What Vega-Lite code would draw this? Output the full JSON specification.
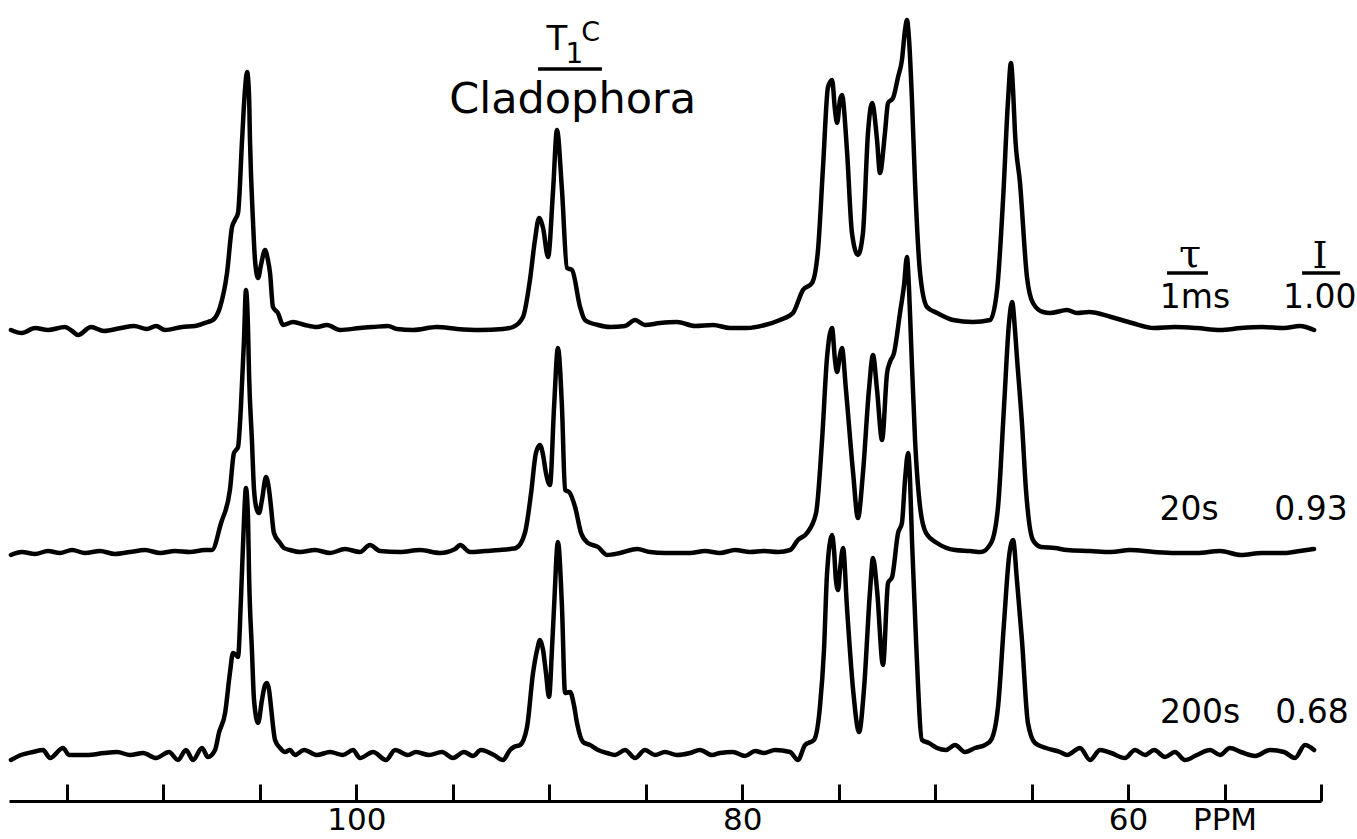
{
"$schema": "https://vega.github.io/schema/vega-lite/v6.json",
"width": 1312, "height": 801,
"autosize": "none",
"padding": {"left": 9, "right": 36, "top": 0, "bottom": 38},
"background": "white",
"config": {"view": {"stroke": null}},
"datasets": {
"spectra": [
{"trace":"1ms","ppm":117.90,"signal":471},{"trace":"1ms","ppm":117.33,"signal":468},{"trace":"1ms","ppm":116.65,"signal":473},{"trace":"1ms","ppm":115.98,"signal":471},{"trace":"1ms","ppm":115.10,"signal":474},{"trace":"1ms","ppm":114.73,"signal":470},{"trace":"1ms","ppm":114.42,"signal":466},{"trace":"1ms","ppm":113.75,"signal":474},{"trace":"1ms","ppm":113.08,"signal":470},{"trace":"1ms","ppm":112.20,"signal":473},{"trace":"1ms","ppm":111.52,"signal":475},{"trace":"1ms","ppm":110.85,"signal":472},{"trace":"1ms","ppm":110.38,"signal":475},{"trace":"1ms","ppm":109.91,"signal":471},{"trace":"1ms","ppm":109.03,"signal":474},{"trace":"1ms","ppm":108.36,"signal":475},{"trace":"1ms","ppm":107.69,"signal":479},{"trace":"1ms","ppm":107.43,"signal":481},{"trace":"1ms","ppm":107.06,"signal":494},{"trace":"1ms","ppm":106.70,"signal":528},{"trace":"1ms","ppm":106.44,"signal":574},{"trace":"1ms","ppm":106.29,"signal":581},{"trace":"1ms","ppm":106.13,"signal":588},{"trace":"1ms","ppm":105.92,"signal":661},{"trace":"1ms","ppm":105.77,"signal":711},{"trace":"1ms","ppm":105.66,"signal":729},{"trace":"1ms","ppm":105.56,"signal":706},{"trace":"1ms","ppm":105.51,"signal":661},{"trace":"1ms","ppm":105.35,"signal":578},{"trace":"1ms","ppm":105.25,"signal":541},{"trace":"1ms","ppm":105.09,"signal":523},{"trace":"1ms","ppm":104.94,"signal":536},{"trace":"1ms","ppm":104.73,"signal":551},{"trace":"1ms","ppm":104.58,"signal":541},{"trace":"1ms","ppm":104.47,"signal":528},{"trace":"1ms","ppm":104.32,"signal":494},{"trace":"1ms","ppm":104.06,"signal":488},{"trace":"1ms","ppm":103.80,"signal":476},{"trace":"1ms","ppm":103.28,"signal":479},{"trace":"1ms","ppm":102.66,"signal":476},{"trace":"1ms","ppm":102.04,"signal":474},{"trace":"1ms","ppm":101.52,"signal":476},{"trace":"1ms","ppm":100.84,"signal":471},{"trace":"1ms","ppm":99.81,"signal":473},{"trace":"1ms","ppm":99.13,"signal":474},{"trace":"1ms","ppm":98.36,"signal":475},{"trace":"1ms","ppm":97.89,"signal":472},{"trace":"1ms","ppm":97.06,"signal":471},{"trace":"1ms","ppm":95.82,"signal":474},{"trace":"1ms","ppm":94.78,"signal":472},{"trace":"1ms","ppm":93.59,"signal":471},{"trace":"1ms","ppm":92.40,"signal":472},{"trace":"1ms","ppm":91.88,"signal":474},{"trace":"1ms","ppm":91.36,"signal":484},{"trace":"1ms","ppm":91.00,"signal":521},{"trace":"1ms","ppm":90.74,"signal":561},{"trace":"1ms","ppm":90.53,"signal":583},{"trace":"1ms","ppm":90.32,"signal":573},{"trace":"1ms","ppm":90.06,"signal":544},{"trace":"1ms","ppm":89.80,"signal":611},{"trace":"1ms","ppm":89.60,"signal":671},{"trace":"1ms","ppm":89.34,"signal":611},{"trace":"1ms","ppm":89.08,"signal":533},{"trace":"1ms","ppm":88.82,"signal":531},{"trace":"1ms","ppm":88.40,"signal":494},{"trace":"1ms","ppm":88.15,"signal":481},{"trace":"1ms","ppm":87.47,"signal":476},{"trace":"1ms","ppm":86.85,"signal":474},{"trace":"1ms","ppm":86.07,"signal":475},{"trace":"1ms","ppm":85.55,"signal":481},{"trace":"1ms","ppm":85.04,"signal":476},{"trace":"1ms","ppm":84.26,"signal":478},{"trace":"1ms","ppm":83.38,"signal":479},{"trace":"1ms","ppm":82.44,"signal":475},{"trace":"1ms","ppm":81.51,"signal":476},{"trace":"1ms","ppm":80.63,"signal":473},{"trace":"1ms","ppm":79.75,"signal":473},{"trace":"1ms","ppm":78.82,"signal":476},{"trace":"1ms","ppm":78.04,"signal":481},{"trace":"1ms","ppm":77.37,"signal":488},{"trace":"1ms","ppm":76.85,"signal":511},{"trace":"1ms","ppm":76.38,"signal":518},{"trace":"1ms","ppm":76.07,"signal":551},{"trace":"1ms","ppm":75.81,"signal":634},{"trace":"1ms","ppm":75.55,"signal":714},{"trace":"1ms","ppm":75.34,"signal":721},{"trace":"1ms","ppm":75.19,"signal":691},{"trace":"1ms","ppm":75.08,"signal":678},{"trace":"1ms","ppm":74.93,"signal":701},{"trace":"1ms","ppm":74.83,"signal":706},{"trace":"1ms","ppm":74.57,"signal":651},{"trace":"1ms","ppm":74.31,"signal":568},{"trace":"1ms","ppm":74.00,"signal":546},{"trace":"1ms","ppm":73.74,"signal":568},{"trace":"1ms","ppm":73.48,"signal":668},{"trace":"1ms","ppm":73.27,"signal":698},{"trace":"1ms","ppm":73.01,"signal":661},{"trace":"1ms","ppm":72.86,"signal":628},{"trace":"1ms","ppm":72.60,"signal":668},{"trace":"1ms","ppm":72.44,"signal":698},{"trace":"1ms","ppm":72.18,"signal":703},{"trace":"1ms","ppm":71.92,"signal":724},{"trace":"1ms","ppm":71.72,"signal":741},{"trace":"1ms","ppm":71.56,"signal":771},{"trace":"1ms","ppm":71.46,"signal":781},{"trace":"1ms","ppm":71.35,"signal":761},{"trace":"1ms","ppm":71.20,"signal":701},{"trace":"1ms","ppm":71.04,"signal":618},{"trace":"1ms","ppm":70.78,"signal":528},{"trace":"1ms","ppm":70.42,"signal":494},{"trace":"1ms","ppm":69.90,"signal":488},{"trace":"1ms","ppm":69.07,"signal":481},{"trace":"1ms","ppm":68.04,"signal":479},{"trace":"1ms","ppm":67.15,"signal":481},{"trace":"1ms","ppm":66.79,"signal":511},{"trace":"1ms","ppm":66.48,"signal":601},{"trace":"1ms","ppm":66.22,"signal":701},{"trace":"1ms","ppm":66.07,"signal":738},{"trace":"1ms","ppm":65.96,"signal":711},{"trace":"1ms","ppm":65.86,"signal":668},{"trace":"1ms","ppm":65.60,"signal":618},{"trace":"1ms","ppm":65.24,"signal":524},{"trace":"1ms","ppm":64.93,"signal":498},{"trace":"1ms","ppm":64.41,"signal":489},{"trace":"1ms","ppm":64.04,"signal":488},{"trace":"1ms","ppm":63.16,"signal":491},{"trace":"1ms","ppm":62.65,"signal":488},{"trace":"1ms","ppm":62.02,"signal":489},{"trace":"1ms","ppm":60.88,"signal":484},{"trace":"1ms","ppm":59.79,"signal":478},{"trace":"1ms","ppm":58.65,"signal":473},{"trace":"1ms","ppm":57.57,"signal":474},{"trace":"1ms","ppm":56.43,"signal":473},{"trace":"1ms","ppm":55.23,"signal":471},{"trace":"1ms","ppm":54.15,"signal":473},{"trace":"1ms","ppm":53.06,"signal":474},{"trace":"1ms","ppm":51.92,"signal":473},{"trace":"1ms","ppm":51.09,"signal":475},{"trace":"1ms","ppm":50.36,"signal":471},
{"trace":"20s","ppm":117.90,"signal":246},{"trace":"20s","ppm":117.33,"signal":249},{"trace":"20s","ppm":116.65,"signal":247},{"trace":"20s","ppm":115.98,"signal":250},{"trace":"20s","ppm":115.36,"signal":248},{"trace":"20s","ppm":114.73,"signal":251},{"trace":"20s","ppm":114.06,"signal":248},{"trace":"20s","ppm":113.28,"signal":250},{"trace":"20s","ppm":112.51,"signal":247},{"trace":"20s","ppm":111.73,"signal":249},{"trace":"20s","ppm":110.95,"signal":251},{"trace":"20s","ppm":110.17,"signal":248},{"trace":"20s","ppm":109.40,"signal":250},{"trace":"20s","ppm":108.62,"signal":249},{"trace":"20s","ppm":107.84,"signal":251},{"trace":"20s","ppm":107.48,"signal":251},{"trace":"20s","ppm":107.01,"signal":278},{"trace":"20s","ppm":106.55,"signal":311},{"trace":"20s","ppm":106.34,"signal":348},{"trace":"20s","ppm":106.23,"signal":351},{"trace":"20s","ppm":106.13,"signal":354},{"trace":"20s","ppm":105.98,"signal":394},{"trace":"20s","ppm":105.82,"signal":461},{"trace":"20s","ppm":105.72,"signal":511},{"trace":"20s","ppm":105.61,"signal":471},{"trace":"20s","ppm":105.56,"signal":428},{"trace":"20s","ppm":105.41,"signal":361},{"trace":"20s","ppm":105.30,"signal":311},{"trace":"20s","ppm":105.15,"signal":291},{"trace":"20s","ppm":105.04,"signal":288},{"trace":"20s","ppm":104.89,"signal":301},{"trace":"20s","ppm":104.68,"signal":324},{"trace":"20s","ppm":104.52,"signal":311},{"trace":"20s","ppm":104.42,"signal":294},{"trace":"20s","ppm":104.27,"signal":268},{"trace":"20s","ppm":103.95,"signal":258},{"trace":"20s","ppm":103.75,"signal":253},{"trace":"20s","ppm":103.44,"signal":251},{"trace":"20s","ppm":102.92,"signal":249},{"trace":"20s","ppm":102.14,"signal":251},{"trace":"20s","ppm":101.36,"signal":248},{"trace":"20s","ppm":100.59,"signal":252},{"trace":"20s","ppm":99.81,"signal":249},{"trace":"20s","ppm":99.29,"signal":256},{"trace":"20s","ppm":98.77,"signal":250},{"trace":"20s","ppm":97.73,"signal":249},{"trace":"20s","ppm":96.70,"signal":251},{"trace":"20s","ppm":95.66,"signal":248},{"trace":"20s","ppm":94.88,"signal":252},{"trace":"20s","ppm":94.62,"signal":256},{"trace":"20s","ppm":94.11,"signal":249},{"trace":"20s","ppm":93.33,"signal":250},{"trace":"20s","ppm":92.55,"signal":251},{"trace":"20s","ppm":92.03,"signal":252},{"trace":"20s","ppm":91.72,"signal":253},{"trace":"20s","ppm":91.26,"signal":268},{"trace":"20s","ppm":90.94,"signal":308},{"trace":"20s","ppm":90.69,"signal":348},{"trace":"20s","ppm":90.48,"signal":356},{"trace":"20s","ppm":90.32,"signal":346},{"trace":"20s","ppm":90.17,"signal":328},{"trace":"20s","ppm":89.96,"signal":316},{"trace":"20s","ppm":89.75,"signal":394},{"trace":"20s","ppm":89.55,"signal":453},{"trace":"20s","ppm":89.34,"signal":394},{"trace":"20s","ppm":89.18,"signal":311},{"trace":"20s","ppm":88.97,"signal":309},{"trace":"20s","ppm":88.66,"signal":294},{"trace":"20s","ppm":88.35,"signal":268},{"trace":"20s","ppm":87.99,"signal":258},{"trace":"20s","ppm":87.47,"signal":254},{"trace":"20s","ppm":87.01,"signal":246},{"trace":"20s","ppm":86.33,"signal":248},{"trace":"20s","ppm":85.45,"signal":252},{"trace":"20s","ppm":84.78,"signal":249},{"trace":"20s","ppm":84.00,"signal":248},{"trace":"20s","ppm":83.38,"signal":248},{"trace":"20s","ppm":82.70,"signal":248},{"trace":"20s","ppm":81.93,"signal":250},{"trace":"20s","ppm":81.15,"signal":248},{"trace":"20s","ppm":80.37,"signal":251},{"trace":"20s","ppm":79.59,"signal":249},{"trace":"20s","ppm":78.87,"signal":250},{"trace":"20s","ppm":78.14,"signal":249},{"trace":"20s","ppm":77.52,"signal":251},{"trace":"20s","ppm":77.11,"signal":261},{"trace":"20s","ppm":76.64,"signal":268},{"trace":"20s","ppm":76.17,"signal":288},{"trace":"20s","ppm":75.86,"signal":361},{"trace":"20s","ppm":75.60,"signal":444},{"trace":"20s","ppm":75.34,"signal":473},{"trace":"20s","ppm":75.19,"signal":441},{"trace":"20s","ppm":75.08,"signal":429},{"trace":"20s","ppm":74.93,"signal":446},{"trace":"20s","ppm":74.83,"signal":453},{"trace":"20s","ppm":74.62,"signal":411},{"trace":"20s","ppm":74.25,"signal":328},{"trace":"20s","ppm":74.00,"signal":283},{"trace":"20s","ppm":73.74,"signal":328},{"trace":"20s","ppm":73.43,"signal":411},{"trace":"20s","ppm":73.22,"signal":446},{"trace":"20s","ppm":73.01,"signal":411},{"trace":"20s","ppm":72.75,"signal":361},{"trace":"20s","ppm":72.49,"signal":428},{"trace":"20s","ppm":72.34,"signal":439},{"trace":"20s","ppm":72.13,"signal":448},{"trace":"20s","ppm":71.82,"signal":488},{"trace":"20s","ppm":71.61,"signal":516},{"trace":"20s","ppm":71.46,"signal":544},{"trace":"20s","ppm":71.35,"signal":511},{"trace":"20s","ppm":71.25,"signal":461},{"trace":"20s","ppm":71.04,"signal":361},{"trace":"20s","ppm":70.78,"signal":294},{"trace":"20s","ppm":70.47,"signal":268},{"trace":"20s","ppm":69.90,"signal":258},{"trace":"20s","ppm":68.97,"signal":251},{"trace":"20s","ppm":68.19,"signal":250},{"trace":"20s","ppm":67.62,"signal":249},{"trace":"20s","ppm":67.10,"signal":258},{"trace":"20s","ppm":66.74,"signal":294},{"trace":"20s","ppm":66.43,"signal":394},{"trace":"20s","ppm":66.17,"signal":478},{"trace":"20s","ppm":66.01,"signal":499},{"trace":"20s","ppm":65.86,"signal":471},{"trace":"20s","ppm":65.76,"signal":444},{"trace":"20s","ppm":65.50,"signal":378},{"trace":"20s","ppm":65.29,"signal":311},{"trace":"20s","ppm":64.93,"signal":261},{"trace":"20s","ppm":64.51,"signal":254},{"trace":"20s","ppm":63.79,"signal":253},{"trace":"20s","ppm":63.16,"signal":251},{"trace":"20s","ppm":61.97,"signal":250},{"trace":"20s","ppm":60.88,"signal":249},{"trace":"20s","ppm":59.90,"signal":251},{"trace":"20s","ppm":58.65,"signal":249},{"trace":"20s","ppm":57.57,"signal":248},{"trace":"20s","ppm":56.43,"signal":248},{"trace":"20s","ppm":55.23,"signal":250},{"trace":"20s","ppm":54.15,"signal":246},{"trace":"20s","ppm":53.06,"signal":248},{"trace":"20s","ppm":51.92,"signal":248},{"trace":"20s","ppm":51.09,"signal":250},{"trace":"20s","ppm":50.36,"signal":252},
{"trace":"200s","ppm":117.90,"signal":41},{"trace":"200s","ppm":117.38,"signal":46},{"trace":"200s","ppm":116.76,"signal":49},{"trace":"200s","ppm":116.24,"signal":51},{"trace":"200s","ppm":115.87,"signal":43},{"trace":"200s","ppm":115.20,"signal":53},{"trace":"200s","ppm":114.89,"signal":46},{"trace":"200s","ppm":113.96,"signal":46},{"trace":"200s","ppm":113.08,"signal":48},{"trace":"200s","ppm":112.40,"signal":49},{"trace":"200s","ppm":111.73,"signal":46},{"trace":"200s","ppm":111.05,"signal":48},{"trace":"200s","ppm":110.38,"signal":43},{"trace":"200s","ppm":109.71,"signal":49},{"trace":"200s","ppm":109.24,"signal":41},{"trace":"200s","ppm":108.83,"signal":51},{"trace":"200s","ppm":108.46,"signal":41},{"trace":"200s","ppm":108.00,"signal":53},{"trace":"200s","ppm":107.69,"signal":44},{"trace":"200s","ppm":107.32,"signal":51},{"trace":"200s","ppm":107.12,"signal":68},{"trace":"200s","ppm":106.80,"signal":88},{"trace":"200s","ppm":106.55,"signal":128},{"trace":"200s","ppm":106.39,"signal":148},{"trace":"200s","ppm":106.23,"signal":146},{"trace":"200s","ppm":106.13,"signal":144},{"trace":"200s","ppm":105.98,"signal":201},{"trace":"200s","ppm":105.82,"signal":281},{"trace":"200s","ppm":105.72,"signal":313},{"trace":"200s","ppm":105.61,"signal":281},{"trace":"200s","ppm":105.56,"signal":228},{"trace":"200s","ppm":105.41,"signal":151},{"trace":"200s","ppm":105.30,"signal":101},{"trace":"200s","ppm":105.09,"signal":78},{"trace":"200s","ppm":104.89,"signal":101},{"trace":"200s","ppm":104.73,"signal":116},{"trace":"200s","ppm":104.63,"signal":118},{"trace":"200s","ppm":104.52,"signal":111},{"trace":"200s","ppm":104.42,"signal":94},{"trace":"200s","ppm":104.21,"signal":61},{"trace":"200s","ppm":103.95,"signal":53},{"trace":"200s","ppm":103.69,"signal":49},{"trace":"200s","ppm":103.44,"signal":51},{"trace":"200s","ppm":103.18,"signal":46},{"trace":"200s","ppm":102.71,"signal":51},{"trace":"200s","ppm":102.04,"signal":46},{"trace":"200s","ppm":101.36,"signal":49},{"trace":"200s","ppm":100.69,"signal":46},{"trace":"200s","ppm":100.17,"signal":51},{"trace":"200s","ppm":99.81,"signal":43},{"trace":"200s","ppm":99.13,"signal":49},{"trace":"200s","ppm":98.46,"signal":41},{"trace":"200s","ppm":97.99,"signal":51},{"trace":"200s","ppm":97.32,"signal":46},{"trace":"200s","ppm":96.91,"signal":49},{"trace":"200s","ppm":96.23,"signal":46},{"trace":"200s","ppm":95.56,"signal":49},{"trace":"200s","ppm":94.99,"signal":43},{"trace":"200s","ppm":94.42,"signal":49},{"trace":"200s","ppm":93.95,"signal":45},{"trace":"200s","ppm":93.54,"signal":51},{"trace":"200s","ppm":92.86,"signal":46},{"trace":"200s","ppm":92.40,"signal":41},{"trace":"200s","ppm":92.03,"signal":51},{"trace":"200s","ppm":91.83,"signal":54},{"trace":"200s","ppm":91.51,"signal":56},{"trace":"200s","ppm":91.15,"signal":74},{"trace":"200s","ppm":90.84,"signal":128},{"trace":"200s","ppm":90.63,"signal":151},{"trace":"200s","ppm":90.48,"signal":161},{"trace":"200s","ppm":90.32,"signal":151},{"trace":"200s","ppm":90.17,"signal":128},{"trace":"200s","ppm":90.01,"signal":104},{"trace":"200s","ppm":89.86,"signal":151},{"trace":"200s","ppm":89.75,"signal":194},{"trace":"200s","ppm":89.55,"signal":259},{"trace":"200s","ppm":89.34,"signal":194},{"trace":"200s","ppm":89.18,"signal":108},{"trace":"200s","ppm":88.92,"signal":109},{"trace":"200s","ppm":88.72,"signal":96},{"trace":"200s","ppm":88.56,"signal":78},{"trace":"200s","ppm":88.25,"signal":59},{"trace":"200s","ppm":87.89,"signal":56},{"trace":"200s","ppm":87.47,"signal":51},{"trace":"200s","ppm":87.01,"signal":48},{"trace":"200s","ppm":86.59,"signal":46},{"trace":"200s","ppm":86.07,"signal":51},{"trace":"200s","ppm":85.55,"signal":43},{"trace":"200s","ppm":85.04,"signal":51},{"trace":"200s","ppm":84.52,"signal":46},{"trace":"200s","ppm":84.00,"signal":49},{"trace":"200s","ppm":83.38,"signal":46},{"trace":"200s","ppm":82.70,"signal":48},{"trace":"200s","ppm":82.19,"signal":51},{"trace":"200s","ppm":81.56,"signal":46},{"trace":"200s","ppm":81.15,"signal":48},{"trace":"200s","ppm":80.48,"signal":49},{"trace":"200s","ppm":79.85,"signal":45},{"trace":"200s","ppm":79.33,"signal":50},{"trace":"200s","ppm":78.87,"signal":48},{"trace":"200s","ppm":78.30,"signal":51},{"trace":"200s","ppm":77.52,"signal":49},{"trace":"200s","ppm":77.11,"signal":41},{"trace":"200s","ppm":76.74,"signal":56},{"trace":"200s","ppm":76.28,"signal":61},{"trace":"200s","ppm":75.97,"signal":94},{"trace":"200s","ppm":75.76,"signal":151},{"trace":"200s","ppm":75.60,"signal":228},{"trace":"200s","ppm":75.34,"signal":266},{"trace":"200s","ppm":75.24,"signal":251},{"trace":"200s","ppm":75.14,"signal":221},{"trace":"200s","ppm":75.03,"signal":211},{"trace":"200s","ppm":74.93,"signal":231},{"trace":"200s","ppm":74.77,"signal":253},{"trace":"200s","ppm":74.57,"signal":194},{"trace":"200s","ppm":74.25,"signal":111},{"trace":"200s","ppm":73.94,"signal":69},{"trace":"200s","ppm":73.69,"signal":111},{"trace":"200s","ppm":73.37,"signal":211},{"trace":"200s","ppm":73.22,"signal":243},{"trace":"200s","ppm":73.01,"signal":211},{"trace":"200s","ppm":72.70,"signal":136},{"trace":"200s","ppm":72.44,"signal":218},{"trace":"200s","ppm":72.23,"signal":224},{"trace":"200s","ppm":71.92,"signal":268},{"trace":"200s","ppm":71.72,"signal":278},{"trace":"200s","ppm":71.56,"signal":321},{"trace":"200s","ppm":71.40,"signal":348},{"trace":"200s","ppm":71.30,"signal":321},{"trace":"200s","ppm":71.20,"signal":261},{"trace":"200s","ppm":70.99,"signal":161},{"trace":"200s","ppm":70.68,"signal":61},{"trace":"200s","ppm":70.32,"signal":58},{"trace":"200s","ppm":69.90,"signal":53},{"trace":"200s","ppm":69.44,"signal":51},{"trace":"200s","ppm":68.97,"signal":56},{"trace":"200s","ppm":68.45,"signal":49},{"trace":"200s","ppm":67.93,"signal":53},{"trace":"200s","ppm":67.41,"signal":56},{"trace":"200s","ppm":67.10,"signal":61},{"trace":"200s","ppm":66.74,"signal":94},{"trace":"200s","ppm":66.43,"signal":178},{"trace":"200s","ppm":66.17,"signal":244},{"trace":"200s","ppm":65.96,"signal":261},{"trace":"200s","ppm":65.76,"signal":221},{"trace":"200s","ppm":65.50,"signal":161},{"trace":"200s","ppm":65.19,"signal":78},{"trace":"200s","ppm":64.82,"signal":58},{"trace":"200s","ppm":64.25,"signal":53},{"trace":"200s","ppm":63.53,"signal":49},{"trace":"200s","ppm":63.16,"signal":46},{"trace":"200s","ppm":62.49,"signal":53},{"trace":"200s","ppm":61.97,"signal":41},{"trace":"200s","ppm":61.45,"signal":51},{"trace":"200s","ppm":60.88,"signal":48},{"trace":"200s","ppm":60.16,"signal":43},{"trace":"200s","ppm":59.64,"signal":51},{"trace":"200s","ppm":59.12,"signal":46},{"trace":"200s","ppm":58.65,"signal":51},{"trace":"200s","ppm":58.08,"signal":44},{"trace":"200s","ppm":57.57,"signal":49},{"trace":"200s","ppm":57.05,"signal":41},{"trace":"200s","ppm":56.43,"signal":46},{"trace":"200s","ppm":55.75,"signal":51},{"trace":"200s","ppm":55.23,"signal":46},{"trace":"200s","ppm":54.72,"signal":53},{"trace":"200s","ppm":54.15,"signal":49},{"trace":"200s","ppm":53.42,"signal":45},{"trace":"200s","ppm":52.64,"signal":51},{"trace":"200s","ppm":51.92,"signal":49},{"trace":"200s","ppm":51.35,"signal":43},{"trace":"200s","ppm":50.83,"signal":56},{"trace":"200s","ppm":50.36,"signal":51}
],
"labels": [
{"kind":"value","text":"1ms","ppm":56.53,"signal":493},
{"kind":"value","text":"1.00","ppm":50.07,"signal":493},
{"kind":"value","text":"20s","ppm":56.84,"signal":281},
{"kind":"value","text":"0.93","ppm":50.52,"signal":281},
{"kind":"value","text":"200s","ppm":56.27,"signal":78},
{"kind":"value","text":"0.68","ppm":50.47,"signal":78},
{"kind":"tau","text":"τ","ppm":56.79,"signal":534},
{"kind":"intensity","text":"I","ppm":50.05,"signal":533},
{"kind":"sample","text":"Cladophora","ppm":88.79,"signal":688},
{"kind":"T","text":"T","ppm":89.60,"signal":751},
{"kind":"sub","text":"1","ppm":88.70,"signal":738},
{"kind":"sup","text":"C","ppm":87.85,"signal":760}
],
"underlines": [
{"ppm":57.98,"ppm_end":55.86,"signal":528},
{"ppm":50.98,"ppm_end":49.01,"signal":528},
{"ppm":90.58,"ppm_end":87.27,"signal":732}
]
},
"encoding": {
"x": {"field":"ppm","type":"quantitative",
 "scale":{"domain":[50,118],"reverse":true,"nice":false,"zero":false},
 "axis":{"values":[50,55,60,65,70,75,80,85,90,95,100,105,110,115],
  "labelExpr":"datum.value == 55 ? 'PPM' : (datum.value % 20 == 0 ? datum.label : '')",
  "domainColor":"black","domainWidth":3,"tickColor":"black","tickWidth":3,"tickSize":-17,
  "labelFont":"DejaVu Sans","labelFontSize":31,"labelColor":"black","labelPadding":21,
  "labelFlush":false,"labelOverlap":false,"grid":false,"title":null}},
"y": {"field":"signal","type":"quantitative","scale":{"domain":[0,801],"nice":false,"zero":false},"axis":null}
},
"layer": [
{"data":{"name":"spectra"},"mark":{"type":"line","color":"black","strokeWidth":4.5,"interpolate":"monotone","strokeJoin":"round","strokeCap":"round"},"encoding":{"detail":{"field":"trace"}}},
{"data":{"name":"underlines"},"mark":{"type":"rule","color":"black","strokeWidth":3.5},"encoding":{"x2":{"field":"ppm_end"}}},
{"data":{"name":"labels"},"transform":[{"filter":"datum.kind == 'value'"}],"mark":{"type":"text","font":"DejaVu Sans","fontSize":33,"color":"black","align":"center","baseline":"alphabetic"},"encoding":{"text":{"field":"text"}}},
{"data":{"name":"labels"},"transform":[{"filter":"datum.kind == 'tau'"}],"mark":{"type":"text","font":"DejaVu Serif","fontSize":40,"color":"black","align":"center","baseline":"alphabetic"},"encoding":{"text":{"field":"text"}}},
{"data":{"name":"labels"},"transform":[{"filter":"datum.kind == 'intensity'"}],"mark":{"type":"text","font":"DejaVu Serif","fontSize":38,"color":"black","align":"center","baseline":"alphabetic"},"encoding":{"text":{"field":"text"}}},
{"data":{"name":"labels"},"transform":[{"filter":"datum.kind == 'sample'"}],"mark":{"type":"text","font":"DejaVu Sans","fontSize":43,"color":"black","align":"center","baseline":"alphabetic"},"encoding":{"text":{"field":"text"}}},
{"data":{"name":"labels"},"transform":[{"filter":"datum.kind == 'T'"}],"mark":{"type":"text","font":"DejaVu Sans","fontSize":34,"color":"black","align":"center","baseline":"alphabetic"},"encoding":{"text":{"field":"text"}}},
{"data":{"name":"labels"},"transform":[{"filter":"datum.kind == 'sub'"}],"mark":{"type":"text","font":"DejaVu Sans","fontSize":28,"color":"black","align":"center","baseline":"alphabetic"},"encoding":{"text":{"field":"text"}}},
{"data":{"name":"labels"},"transform":[{"filter":"datum.kind == 'sup'"}],"mark":{"type":"text","font":"DejaVu Sans","fontSize":27,"color":"black","align":"center","baseline":"alphabetic"},"encoding":{"text":{"field":"text"}}}
]
}
